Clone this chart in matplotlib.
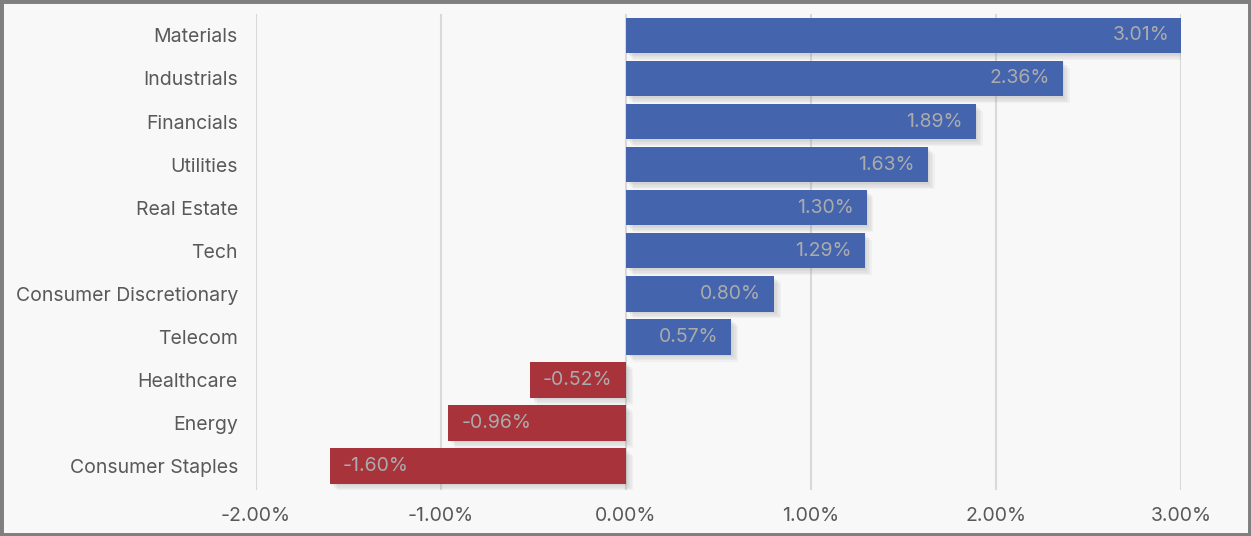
import matplotlib.pyplot as plt
import matplotlib.patheffects as pe
from matplotlib.patches import Rectangle

sectors = ['Materials', 'Industrials', 'Financials', 'Utilities', 'Real Estate', 'Tech',
           'Consumer Discretionary', 'Telecom', 'Healthcare', 'Energy', 'Consumer Staples']
returns = [3.01, 2.36, 1.89, 1.63, 1.30, 1.29, 0.80, 0.57, -0.52, -0.96, -1.60]
ticks = [-2, -1, 0, 1, 2, 3]

plt.rcParams['font.family'] = ['Inter', 'DejaVu Sans']

fig = plt.figure(figsize=(12.51, 5.36), dpi=100, facecolor='#f8f8f8')
fig.patches.append(Rectangle((0, 0), 1, 1, transform=fig.transFigure, fill=False,
                             edgecolor='#7f7f7f', linewidth=5, zorder=10))
ax = fig.add_axes([0.2046, 0.086, 0.7395, 0.888])
ax.set_facecolor('#f8f8f8')

colors = ['#4464ae' if v >= 0 else '#a8333b' for v in returns]
bars = ax.barh(range(len(sectors)), returns, height=0.83, color=colors, zorder=3)
# soft drop shadow built from a few faint offset copies
shadow = [pe.SimplePatchShadow(offset=(d, -d), shadow_rgbFace='#888888', alpha=0.07)
          for d in (5, 4, 3, 2, 1)]
for b in bars:
    b.set_path_effects(shadow + [pe.Normal()])

# Value labels inside the bars
for i, v in enumerate(returns):
    if v >= 0:
        ax.text(v - 0.07, i, f'{v:.2f}%', ha='right', va='center', color='#ababab',
                fontsize=14, zorder=4)
    else:
        ax.text(v + 0.07, i, f'{v:.2f}%', ha='left', va='center', color='#ababab',
                fontsize=14, zorder=4)

ax.set_xlim(-2, 3)
ax.set_ylim(10.56, -0.5)
ax.set_xticks(ticks)
ax.set_xticklabels([f'{t:.2f}%' for t in ticks])
ax.set_yticks(range(len(sectors)))
ax.set_yticklabels(sectors)
ax.tick_params(axis='both', length=0, labelsize=14, labelcolor='#595959')
ax.tick_params(axis='y', pad=13)
ax.tick_params(axis='x', pad=12)
ax.grid(axis='x', color='#d9d9d9', linewidth=1.5, zorder=0)
for s in ax.spines.values():
    s.set_visible(False)

plt.savefig('out.png', dpi=100, facecolor=fig.get_facecolor())
